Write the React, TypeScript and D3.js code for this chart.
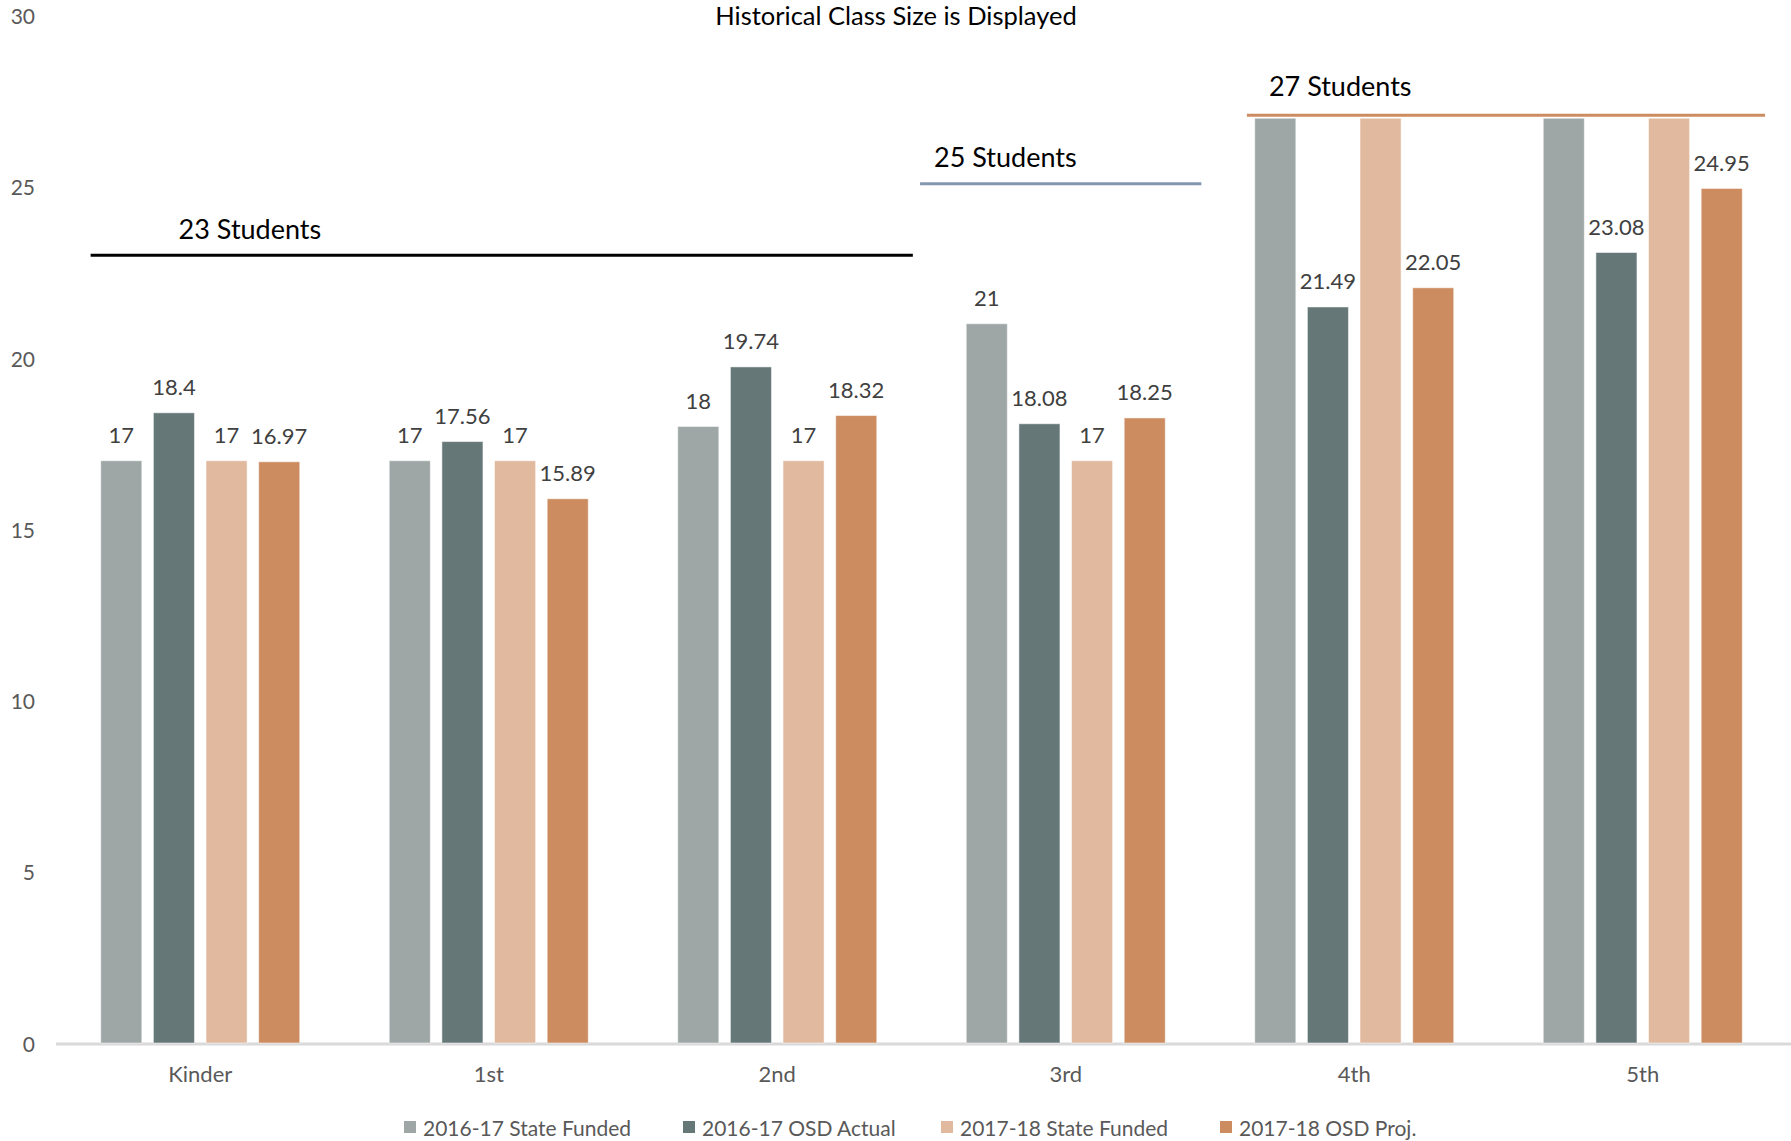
import React from "react";
import * as d3 from "d3";

const categories = ["Kinder", "1st", "2nd", "3rd", "4th", "5th"];
const seriesNames = ["2016-17 State Funded", "2016-17 OSD Actual", "2017-18 State Funded", "2017-18 OSD Proj."];
const seriesColors = ["#9EA6A6", "#667778", "#E0B99E", "#CC8C60"];
const stateFunded1617 = [17, 17, 18, 21, 27, 27];
const osdActual1617 = [18.4, 17.56, 19.74, 18.08, 21.49, 23.08];
const stateFunded1718 = [17, 17, 17, 17, 27, 27];
const osdProj1718 = [16.97, 15.89, 18.32, 18.25, 22.05, 24.95];
// labels hidden on the bars that reach the 27 student cap
const hiddenLabels = [[false, false, false, false, true, true], [false, false, false, false, false, false], [false, false, false, false, true, true], [false, false, false, false, false, false]];
const yTicks = [0, 5, 10, 15, 20, 25, 30];
const capLabels = ["23 Students", "25 Students", "27 Students"];
const capValues = [23, 25, 27];
const capColors = ["#000000", "#8497B0", "#CC8C60"];
// category span (start index, end index) for each cap line
const capSpans = [[0, 2], [3, 3], [4, 5]];

const W = 1791;
const H = 1141;
const FONT = "Lato, 'Open Sans', sans-serif";

export default function App() {
  const series = [stateFunded1617, osdActual1617, stateFunded1718, osdProj1718];
  const x = d3.scaleBand<string>().domain(categories).range([56, 1787]).paddingInner(0).paddingOuter(0);
  const inner = d3.scaleBand<number>().domain([0, 1, 2, 3]).range([0, x.bandwidth()]).paddingInner(0.22).paddingOuter(0.85);
  const y = d3.scaleLinear().domain([0, 30]).range([1043, 15.5]);
  const bw = inner.bandwidth();
  const startFrac = [0.12, -0.005, 0.128];
  const endFrac = [0.97, 0.97, 0.924];
  const lineDy = [0, -3, -3];
  const textDx = [88, 14, 22];
  const textDy = [-27, -27, -30];

  return (
    <svg width={W} height={H} style={{ position: "absolute", left: 0, top: 0, background: "#fff" }} fontFamily={FONT}>
      <text x={896} y={25} textAnchor="middle" fontSize={25.5} fill="#000">
        Historical Class Size is Displayed
      </text>
      {yTicks.map((t) => (
        <text key={t} x={35} y={y(t)} textAnchor="end" dominantBaseline="central" fontSize={21} fill="#595959">
          {t}
        </text>
      ))}
      <line x1={56} x2={1791} y1={y(0) + 1} y2={y(0) + 1} stroke="#D9D9D9" strokeWidth={3} />
      {categories.map((c, ci) => (
        <g key={c}>
          {series.map((s, si) => {
            const bx = (x(c) as number) + (inner(si) as number);
            const v = s[ci];
            return (
              <g key={si}>
                <rect x={bx} y={y(v)} width={bw} height={y(0) - y(v)} fill={seriesColors[si]} stroke="#ffffff" strokeOpacity={0.5} strokeWidth={1} />
                {!hiddenLabels[si][ci] && (
                  <text x={bx + bw / 2} y={y(v) - 26} textAnchor="middle" dominantBaseline="central" fontSize={22} fill="#404040">
                    {String(v)}
                  </text>
                )}
              </g>
            );
          })}
          <text x={(x(c) as number) + x.bandwidth() / 2} y={1073} textAnchor="middle" dominantBaseline="central" fontSize={22} fill="#595959">
            {c}
          </text>
        </g>
      ))}
      {capValues.map((v, i) => {
        const [a, b] = capSpans[i];
        const startX = (x(categories[a]) as number) + startFrac[i] * x.bandwidth();
        const endX = (x(categories[b]) as number) + endFrac[i] * x.bandwidth();
        const ly = y(v) + lineDy[i];
        return (
          <g key={v}>
            <line x1={startX} x2={endX} y1={ly} y2={ly} stroke={capColors[i]} strokeWidth={3} />
            <text x={startX + textDx[i]} y={ly + textDy[i]} dominantBaseline="central" fontSize={27} fill="#000">
              {capLabels[i]}
            </text>
          </g>
        );
      })}
      {(() => {
        const starts = [404, 683, 941, 1220];
        return seriesNames.map((n, i) => (
          <g key={n}>
            <rect x={starts[i]} y={1121} width={12} height={12} fill={seriesColors[i]} />
            <text x={starts[i] + 19} y={1127} dominantBaseline="central" fontSize={21} fill="#595959">
              {n}
            </text>
          </g>
        ));
      })()}
    </svg>
  );
}
